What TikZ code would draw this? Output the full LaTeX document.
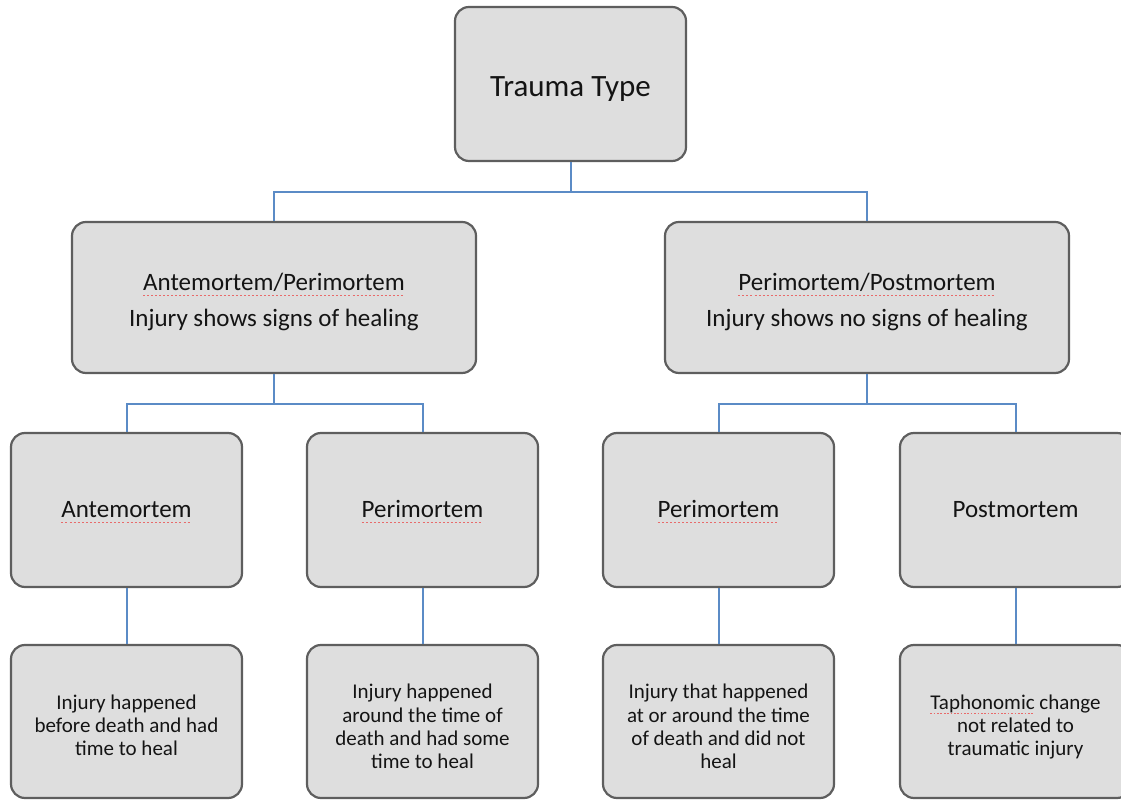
\documentclass[tikz,border=0pt]{standalone}
\usepackage{fontspec}
\setmainfont{Carlito}
\usetikzlibrary{positioning}
\definecolor{boxfill}{HTML}{DEDEDE}
\definecolor{boxline}{HTML}{5E5E5E}
\definecolor{linkblue}{HTML}{5B8BC6}
\definecolor{spellred}{HTML}{E86A6A}
% red spell-check underline
\newsavebox\squigbox
\newcommand\squig[1]{\sbox\squigbox{#1}%
  \rlap{\lower0.2em\hbox to\wd\squigbox{\color{spellred}%
    \xleaders\hbox{\rule{0.08em}{0.04em}\kern0.08em}\hfill}}%
  \usebox\squigbox}
\tikzset{
  tbox/.style  = {draw=boxline, line width=2.2pt, fill=boxfill, rounded corners=14pt,
                  align=center, inner sep=4pt, text=black!92},
  head/.style  = {tbox, minimum width=231pt, minimum height=154pt,
                  text height=32pt, text depth=6pt,
                  font=\fontsize{31}{38}\selectfont},
  mid/.style   = {tbox, minimum width=404pt, minimum height=151pt,
                  text height=64pt, text depth=5pt,
                  font=\fontsize{25}{30}\selectfont},
  kind/.style  = {tbox, minimum width=231pt, minimum height=154pt,
                  text height=21pt, text depth=5pt,
                  font=\fontsize{25}{30}\selectfont},
  desc/.style  = {tbox, minimum width=231pt, minimum height=153pt,
                  text height=69pt, text depth=0pt,
                  font=\fontsize{21}{23.4}\selectfont},
  desc4/.style = {desc, text height=95pt},
  link/.style  = {draw=linkblue, line width=2pt}
}

\begin{document}
\begin{tikzpicture}[x=1pt,y=1pt]
  \clip (0,0) rectangle (1121,800);
  % ---- top ----
  \node[head] (tt) at (570.5,716) {Trauma Type};

  % ---- second row ----
  \node[mid] (ap) at (274,502.5) {\squig{Antemortem/Perimortem}\\[6pt]Injury shows signs of healing};
  \node[mid] (pp) at (867,502.5) {\squig{Perimortem/Postmortem}\\[6pt]Injury shows no signs of healing};

  % ---- third row ----
  \node[kind] (am)  at (126.5,290) {\squig{Antemortem}};
  \node[kind] (pm1) at (422.5,290) {\squig{Perimortem}};
  \node[kind] (pm2) at (718.5,290) {\squig{Perimortem}};
  \node[kind] (po)  at (1015.5,290) {Postmortem};

  % ---- bottom row ----
  \node[desc]  (d1) at (126.5,78.5) {Injury happened\\before death and had\\time to heal};
  \node[desc4] (d2) at (422.5,78.5) {Injury happened\\around the time of\\death and had some\\time to heal};
  \node[desc4] (d3) at (718.5,78.5) {Injury that happened\\at or around the time\\of death and did not\\heal};
  \node[desc]  (d4) at (1015.5,78.5) {\squig{Taphonomic} change\\not related to\\traumatic injury};

  % ---- connectors ----
  \draw[link] (tt.south) -- ++(0,-30) -| (ap.north);
  \draw[link] (tt.south) -- ++(0,-30) -| (pp.north);
  \draw[link] (ap.south) -- ++(0,-30) -| (am.north);
  \draw[link] (ap.south) -- ++(0,-30) -| (pm1.north);
  \draw[link] (pp.south) -- ++(0,-30) -| (pm2.north);
  \draw[link] (pp.south) -- ++(0,-30) -| (po.north);
  \draw[link] (am.south) -- (d1.north);
  \draw[link] (pm1.south) -- (d2.north);
  \draw[link] (pm2.south) -- (d3.north);
  \draw[link] (po.south) -- (d4.north);
\end{tikzpicture}
\end{document}
